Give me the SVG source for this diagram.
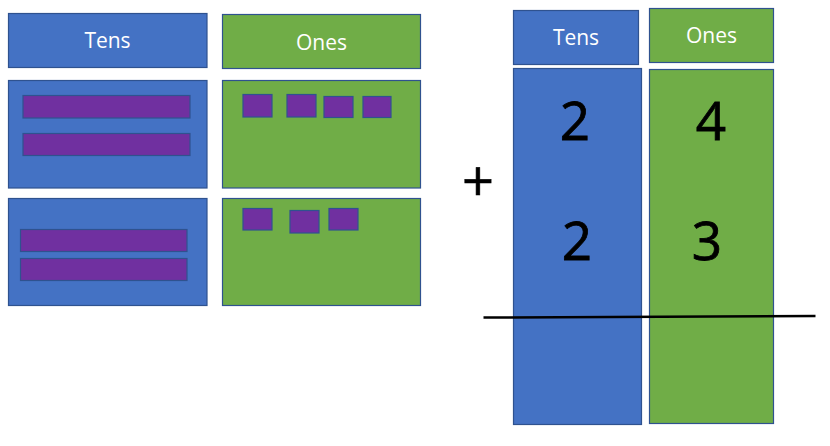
<svg xmlns="http://www.w3.org/2000/svg" width="830" height="446" viewBox="0 0 830 446">
<style>
.b{fill:#4472C4;stroke:#2F528F;stroke-width:1.2}
.g{fill:#70AD47;stroke:#2F528F;stroke-width:1.2}
.p{fill:#7030A0;stroke:#2F528F;stroke-width:1.2}
.h{font-family:"Open Sans","Liberation Sans",sans-serif;font-size:21px;fill:#fff;text-anchor:middle}
.d{font-family:"Open Sans","Liberation Sans",sans-serif;font-size:53px;fill:#000;text-anchor:middle;stroke:#000;stroke-width:0.8}
</style>
<rect width="830" height="446" fill="#fff"/>
<g id="tens-header-left"><rect class="b" x="8.5" y="13.5" width="198.5" height="54"/><text class="h" x="107.5" y="48">Tens</text></g>
<g id="ones-header-left"><rect class="g" x="222.5" y="14.5" width="198" height="54"/><text class="h" x="321.5" y="50">Ones</text></g>
<g id="tens-box-1"><rect class="b" x="8.5" y="80.5" width="198.5" height="107.5"/>
<rect class="p" x="23" y="95.5" width="167" height="22.5"/><rect class="p" x="23" y="133.5" width="167" height="22"/></g>
<g id="ones-box-1"><rect class="g" x="222.5" y="80.5" width="198" height="107.5"/>
<rect class="p" x="243" y="94.5" width="29" height="22.5"/><rect class="p" x="287" y="94.5" width="29" height="22.5"/><rect class="p" x="324" y="96.5" width="29" height="21"/><rect class="p" x="363" y="96.5" width="28" height="21"/></g>
<g id="tens-box-2"><rect class="b" x="8.5" y="198.5" width="198.5" height="107"/>
<rect class="p" x="20.5" y="229.5" width="166.5" height="22"/><rect class="p" x="20.5" y="258.5" width="166.5" height="22"/></g>
<g id="ones-box-2"><rect class="g" x="222.5" y="198.5" width="198" height="107"/>
<rect class="p" x="243" y="208.5" width="29" height="21.5"/><rect class="p" x="290" y="210.5" width="29" height="22.5"/><rect class="p" x="329" y="208.5" width="29" height="21.5"/></g>
<g id="tens-header-right"><rect class="b" x="513.5" y="10.5" width="125" height="54"/><text class="h" x="576" y="45">Tens</text></g>
<g id="ones-header-right"><rect class="g" x="649.5" y="8.5" width="124" height="54"/><text class="h" x="711.5" y="43">Ones</text></g>
<g id="tens-column"><rect class="b" x="513.5" y="68.5" width="128" height="356"/>
<text class="d" x="575" y="140">2</text><text class="d" x="577" y="260">2</text></g>
<g id="ones-column"><rect class="g" x="649.5" y="69.5" width="124" height="354"/>
<text class="d" x="711" y="140">4</text><text class="d" x="707" y="260">3</text></g>
<g id="plus"><text x="478" y="201" style="font-family:'Open Sans','Liberation Sans',sans-serif;font-size:56px;fill:#000;text-anchor:middle;stroke:#000;stroke-width:0.6">+</text></g>
<g id="connectors"><line x1="483.5" y1="317.5" x2="815.5" y2="316" stroke="#000" stroke-width="2.5"/></g>
</svg>
